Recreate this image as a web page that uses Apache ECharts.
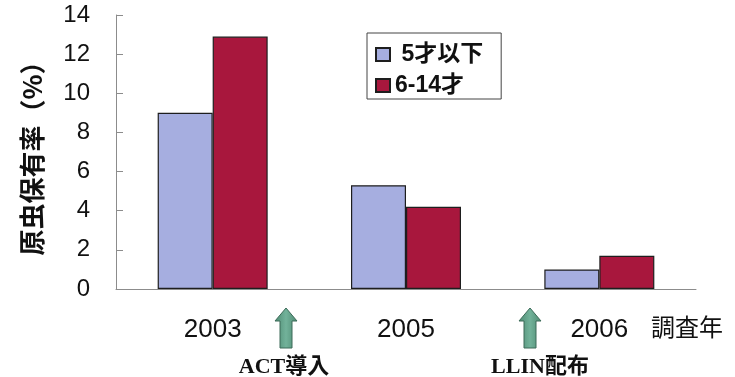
<!DOCTYPE html>
<html>
<head>
<meta charset="utf-8">
<style>
  html, body { margin: 0; padding: 0; background: #fff; }
  #chart { width: 735px; height: 377px; }
</style>
<script src="https://cdn.jsdelivr.net/npm/echarts@6/dist/echarts.min.js"></script>
</head>
<body>
<div id="chart"></div>
<script>
// Survey years and prevalence (%) by age group
const years = ['2003', '2005', '2006'];
const under5 = [9.0, 5.3, 1.0];
const age6to14 = [12.9, 4.2, 1.7];
const seriesNames = ['5才以下', '6-14才'];
const yTicks = { min: 0, max: 14, interval: 2 };

const latin = "'Liberation Sans', Arial, 'Noto Sans CJK JP', sans-serif";
const serif = "'Liberation Serif', 'Times New Roman', 'Noto Sans CJK JP', serif";

// Up arrow outline, local coordinates (tip at 0,0)
function arrowPoints() {
  return [[0, 0], [11, 13], [6, 13], [6, 40], [-6, 40], [-6, 13], [-11, 13]];
}
const arrowFill = {
  type: 'linear', x: 0, y: 0, x2: 1, y2: 0,
  colorStops: [
    { offset: 0, color: '#4e8a72' },
    { offset: 0.5, color: '#72b29a' },
    { offset: 1, color: '#4e8a72' }
  ]
};

const chart = echarts.init(document.getElementById('chart'), null, { renderer: 'canvas' });

chart.setOption({
  backgroundColor: '#ffffff',
  animation: false,
  grid: { left: 116, right: 39, top: 15, bottom: 88, containLabel: false },
  legend: {
    orient: 'vertical',
    left: 367,
    top: 33,
    padding: [10, 18, 2, 8],
    itemGap: 8,
    itemWidth: 14,
    itemHeight: 13,
    borderColor: '#444',
    borderWidth: 1,
    icon: 'rect',
    data: seriesNames,
    formatter: function (n) { return n === seriesNames[0] ? ' ' + n : n; },
    textStyle: { fontSize: 23, fontWeight: 'bold', color: '#111', fontFamily: latin }
  },
  xAxis: {
    type: 'category',
    data: years,
    boundaryGap: true,
    axisLine: { lineStyle: { color: '#8c8c8c', width: 1 } },
    axisTick: { inside: true, length: 7, lineStyle: { color: '#8c8c8c' } },
    axisLabel: { margin: 28, fontSize: 26, color: '#111', fontFamily: latin },
    name: '調査年',
    nameLocation: 'end',
    nameGap: -9,
    nameTextStyle: {
      fontSize: 24, color: '#111', fontFamily: "'Noto Sans CJK JP', sans-serif",
      align: 'center', verticalAlign: 'top', lineHeight: 24, padding: [26, 0, 0, 0]
    }
  },
  yAxis: {
    type: 'value',
    min: yTicks.min,
    max: yTicks.max,
    interval: yTicks.interval,
    splitLine: { show: false },
    axisLine: { show: true, lineStyle: { color: '#8c8c8c', width: 1 } },
    axisTick: { show: true, inside: true, length: 7, lineStyle: { color: '#8c8c8c' } },
    axisLabel: { margin: 26, fontSize: 24, color: '#111', fontFamily: latin },
    name: '原虫保有率（%）',
    nameLocation: 'middle',
    nameRotate: 90,
    nameGap: 71,
    nameTextStyle: {
      fontSize: 26, fontWeight: 'bold', color: '#111',
      fontFamily: "'Noto Sans CJK JP', sans-serif"
    }
  },
  series: [
    {
      name: seriesNames[0],
      type: 'bar',
      data: under5,
      barWidth: 55,
      barGap: '0%',
      itemStyle: { color: '#a6aee0', borderColor: '#1e1e1e', borderWidth: 1.2 }
    },
    {
      name: seriesNames[1],
      type: 'bar',
      data: age6to14,
      barWidth: 55,
      barGap: '0%',
      itemStyle: { color: '#a8173d', borderColor: '#1e1e1e', borderWidth: 1.2 }
    }
  ],
  graphic: [
    {
      type: 'polygon', x: 286, y: 308,
      shape: { points: arrowPoints() },
      style: { fill: arrowFill, stroke: '#3d6b59', lineWidth: 1 }
    },
    {
      type: 'polygon', x: 530, y: 308,
      shape: { points: arrowPoints() },
      style: { fill: arrowFill, stroke: '#3d6b59', lineWidth: 1 }
    },
    {
      type: 'text', x: 284, y: 367,
      style: {
        text: 'ACT導入', fill: '#111', font: "bold 22px " + serif,
        align: 'center', verticalAlign: 'middle'
      }
    },
    {
      type: 'text', x: 540, y: 367,
      style: {
        text: 'LLIN配布', fill: '#111', font: "bold 22px " + serif,
        align: 'center', verticalAlign: 'middle'
      }
    }
  ]
});
</script>
</body>
</html>
